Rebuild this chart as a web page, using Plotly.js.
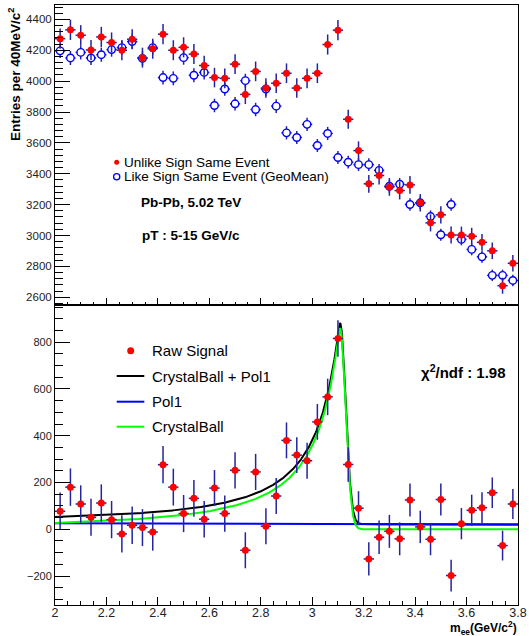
<!DOCTYPE html>
<html><head><meta charset="utf-8">
<script src="https://cdn.plot.ly/plotly-3.0.1.min.js"></script>
<style>html,body{margin:0;padding:0;background:#fff}#plot{width:529px;height:636px}</style>
</head><body><div id="plot"></div>
<script>
// ---- data ----
const binCenters = [2.02,2.06,2.10,2.14,2.18,2.22,2.26,2.30,2.34,2.38,2.42,2.46,2.50,2.54,2.58,2.62,2.66,2.70,2.74,2.78,2.82,2.86,2.90,2.94,2.98,3.02,3.06,3.10,3.14,3.18,3.22,3.26,3.30,3.34,3.38,3.42,3.46,3.50,3.54,3.58,3.62,3.66,3.70,3.74,3.78];
const unlikeSign = [4275,4332,4297,4202,4286,4250,4200,4271,4152,4210,4304,4200,4219,4175,4101,4023,4018,4110,3914,4063,3955,3986,4051,3955,4018,4051,4237,4330,3753,3550,3335,3389,3315,3291,3328,3212,3082,3134,3003,3003,2995,2956,2901,2675,2820];
const likeSignGeoMean = [4196,4150,4186,4150,4171,4204,4217,4256,4147,4217,4023,4018,4152,4038,4056,3842,3949,3853,4003,3816,3949,3838,3665,3635,3720,3583,3661,3505,3475,3459,3459,3422,3319,3332,3201,3212,3123,3005,3201,2975,2910,2862,2742,2742,2709];
const rawSignal = [77,180,108,51,112,41,-20,17,7,-12,276,180,67,132,43,176,67,252,-90,245,13,142,380,317,293,459,566,816,277,90,-127,-34,-9,-41,125,10,-43,127,-198,24,81,92,156,-70,108];
const binHalfWidth = 0.02;
const cbParams = {N: 860, mu: 3.108, sigma: 0.022, alpha: 0.24, n: 1.6};
const pol1Params = {p0: 31.8, p1: -3.11};
const fitRange = [2.0, 3.8];
const legendTop = ["Unlike Sign Same Event", "Like Sign Same Event (GeoMean)"];
const legendBottom = ["Raw Signal", "CrystalBall + Pol1", "Pol1", "CrystalBall"];
const infoTexts = ["Pb-Pb, 5.02 TeV", "pT : 5-15 GeV/c"];
const chi2Text = "χ<sup>2</sup>/ndf : 1.98";

// ---- derived (Poisson-type errors) ----
const errUS = unlikeSign.map(v => Math.sqrt(v));
const errLS = likeSignGeoMean.map(v => Math.sqrt(v / 2));
const errRaw = errUS.map((e, i) => Math.sqrt(e * e + errLS[i] * errLS[i]));

function crystalBall(x) {
  const {N, mu, sigma, alpha, n} = cbParams;
  const t = (x - mu) / sigma;
  if (t > -alpha) return N * Math.exp(-t * t / 2);
  const A = Math.pow(n / alpha, n) * Math.exp(-alpha * alpha / 2);
  const B = n / alpha - alpha;
  return N * A * Math.pow(B - t, -n);
}
function pol1(x) { return pol1Params.p0 + pol1Params.p1 * x; }

const fx = [];
for (let k = 0; k <= 900; k++) fx.push(fitRange[0] + (fitRange[1] - fitRange[0]) * k / 900);
const cbY = fx.map(crystalBall);
const polY = fx.map(pol1);
const totY = fx.map((x, i) => cbY[i] + polY[i]);

// ---- layout helpers (pixel -> paper) ----
const W = 529, H = 636, ML = 55, MR = 11, MT = 5, MB = 31;
const PW = W - ML - MR, PH = H - MT - MB;
const px = p => (p - ML) / PW;
const py = p => (H - MB - p) / PH;
const FONT = "Liberation Sans, Arial, Helvetica, sans-serif";
const ERRC = "#2424a0";

const errBarX = {type: "constant", value: binHalfWidth, color: ERRC, thickness: 1.5, width: 0};

const traces = [
  {x: binCenters, y: likeSignGeoMean, xaxis: "x2", yaxis: "y2", type: "scatter", mode: "markers",
   marker: {symbol: "circle", size: 7.5, color: "#ffffff", line: {color: "#0000ff", width: 1.4}},
   error_y: {type: "data", array: errLS, color: ERRC, thickness: 1.5, width: 0}, error_x: errBarX},
  {x: binCenters, y: unlikeSign, xaxis: "x2", yaxis: "y2", type: "scatter", mode: "markers",
   marker: {symbol: "circle", size: 7, color: "#ff0000"},
   error_y: {type: "data", array: errUS, color: ERRC, thickness: 1.5, width: 0}, error_x: errBarX},
  {x: fx, y: totY, xaxis: "x", yaxis: "y", type: "scatter", mode: "lines", line: {color: "#000000", width: 2}},
  {x: fx, y: polY, xaxis: "x", yaxis: "y", type: "scatter", mode: "lines", line: {color: "#0000ff", width: 2}},
  {x: fx, y: cbY, xaxis: "x", yaxis: "y", type: "scatter", mode: "lines", line: {color: "#00ff00", width: 2}},
  {x: binCenters, y: rawSignal, xaxis: "x", yaxis: "y", type: "scatter", mode: "markers",
   marker: {symbol: "circle", size: 7, color: "#ff0000"},
   error_y: {type: "data", array: errRaw, color: ERRC, thickness: 1.5, width: 0}, error_x: errBarX}
];

const axCommon = {showline: true, linecolor: "#000", linewidth: 1, mirror: true, showgrid: false, zeroline: false,
  ticks: "inside", tickcolor: "#000", tickwidth: 1};

const layout = {
  width: W, height: H, margin: {l: ML, r: MR, t: MT, b: MB},
  paper_bgcolor: "#fff", plot_bgcolor: "#fff", showlegend: false, hovermode: false,
  font: {family: FONT, color: "#000"},
  xaxis: Object.assign({}, axCommon, {domain: [0, 1], anchor: "y", range: [2, 3.8], tick0: 2, dtick: 0.2, ticklen: 8,
    ticklabelstandoff: -4,
    minor: {ticks: "inside", tick0: 2, dtick: 0.05, ticklen: 4, tickcolor: "#000", showgrid: false},
    tickfont: {family: FONT, size: 12.5, color: "#222"}}),
  xaxis2: Object.assign({}, axCommon, {domain: [0, 1], anchor: "y2", matches: "x", range: [2, 3.8], tick0: 2, dtick: 0.2, ticklen: 7,
    showticklabels: false,
    minor: {ticks: "inside", tick0: 2, dtick: 0.05, ticklen: 3.5, tickcolor: "#000", showgrid: false}}),
  yaxis: Object.assign({}, axCommon, {domain: [0, 0.5], anchor: "x", range: [-324, 959], tick0: 0, dtick: 200, ticklen: 15,
    minor: {ticks: "inside", tick0: 0, dtick: 50, ticklen: 8, tickcolor: "#000", showgrid: false},
    tickfont: {family: FONT, size: 11, color: "#222"}}),
  yaxis2: Object.assign({}, axCommon, {domain: [0.5, 1], anchor: "x2", range: [2550, 4493], tick0: 0, dtick: 200, ticklen: 15,
    minor: {ticks: "inside", tick0: 0, dtick: 40, ticklen: 7.5, tickcolor: "#000", showgrid: false},
    tickfont: {family: FONT, size: 11.5, color: "#222"}}),
  annotations: [
    {xref: "paper", yref: "paper", x: px(14), y: py(6), xanchor: "center", yanchor: "top", textangle: -90,
     text: "<b>Entries per 40MeV/c<sup>2</sup></b>", showarrow: false, borderpad: 0, font: {family: FONT, size: 13.5}},
    {xref: "paper", yref: "paper", x: px(518), y: py(627.5), xanchor: "right", yanchor: "middle",
     text: "<b>m<sub>ee</sub>(GeV/c<sup>2</sup>)</b>", showarrow: false, borderpad: 0, font: {family: FONT, size: 12}},
    {xref: "paper", yref: "paper", x: px(123), y: py(162.3), xanchor: "left", yanchor: "middle",
     text: legendTop[0], showarrow: false, borderpad: 0, font: {family: FONT, size: 13.5}},
    {xref: "paper", yref: "paper", x: px(123), y: py(176.7), xanchor: "left", yanchor: "middle",
     text: legendTop[1], showarrow: false, borderpad: 0, font: {family: FONT, size: 13.5}},
    {xref: "paper", yref: "paper", x: px(190.5), y: py(202.7), xanchor: "center", yanchor: "middle",
     text: "<b>" + infoTexts[0] + "</b>", showarrow: false, borderpad: 0, font: {family: FONT, size: 13.5}},
    {xref: "paper", yref: "paper", x: px(191.3), y: py(235.3), xanchor: "center", yanchor: "middle",
     text: "<b>" + infoTexts[1] + "</b>", showarrow: false, borderpad: 0, font: {family: FONT, size: 13.5}},
    {xref: "paper", yref: "paper", x: px(151), y: py(350.7), xanchor: "left", yanchor: "middle",
     text: legendBottom[0], showarrow: false, borderpad: 0, font: {family: FONT, size: 15}},
    {xref: "paper", yref: "paper", x: px(151), y: py(376), xanchor: "left", yanchor: "middle",
     text: legendBottom[1], showarrow: false, borderpad: 0, font: {family: FONT, size: 15}},
    {xref: "paper", yref: "paper", x: px(151), y: py(401.7), xanchor: "left", yanchor: "middle",
     text: legendBottom[2], showarrow: false, borderpad: 0, font: {family: FONT, size: 15}},
    {xref: "paper", yref: "paper", x: px(151), y: py(426.7), xanchor: "left", yanchor: "middle",
     text: legendBottom[3], showarrow: false, borderpad: 0, font: {family: FONT, size: 15}},
    {xref: "paper", yref: "paper", x: px(463.3), y: py(371.7), xanchor: "center", yanchor: "middle",
     text: "<b>" + chi2Text + "</b>", showarrow: false, borderpad: 0, font: {family: FONT, size: 15}}
  ],
  shapes: [
    {type: "circle", xref: "paper", yref: "paper", x0: px(114.2), x1: px(119.2), y0: py(159.8), y1: py(164.8),
     fillcolor: "#ff0000", line: {width: 0}},
    {type: "circle", xref: "paper", yref: "paper", x0: px(113.6), x1: px(119.8), y0: py(173.6), y1: py(179.8),
     fillcolor: "#ffffff", line: {color: "#0000ff", width: 1.3}},
    {type: "circle", xref: "paper", yref: "paper", x0: px(127.2), x1: px(134.2), y0: py(347.2), y1: py(354.2),
     fillcolor: "#ff0000", line: {width: 0}},
    {type: "line", xref: "paper", yref: "paper", x0: px(116.7), x1: px(144.3), y0: py(376), y1: py(376), line: {color: "#000000", width: 2}},
    {type: "line", xref: "paper", yref: "paper", x0: px(116.7), x1: px(144.3), y0: py(401.7), y1: py(401.7), line: {color: "#0000ff", width: 2}},
    {type: "line", xref: "paper", yref: "paper", x0: px(116.7), x1: px(144.3), y0: py(426.7), y1: py(426.7), line: {color: "#00ff00", width: 2}}
  ]
};

Plotly.newPlot("plot", traces, layout, {staticPlot: true, displayModeBar: false});
</script>
</body></html>
